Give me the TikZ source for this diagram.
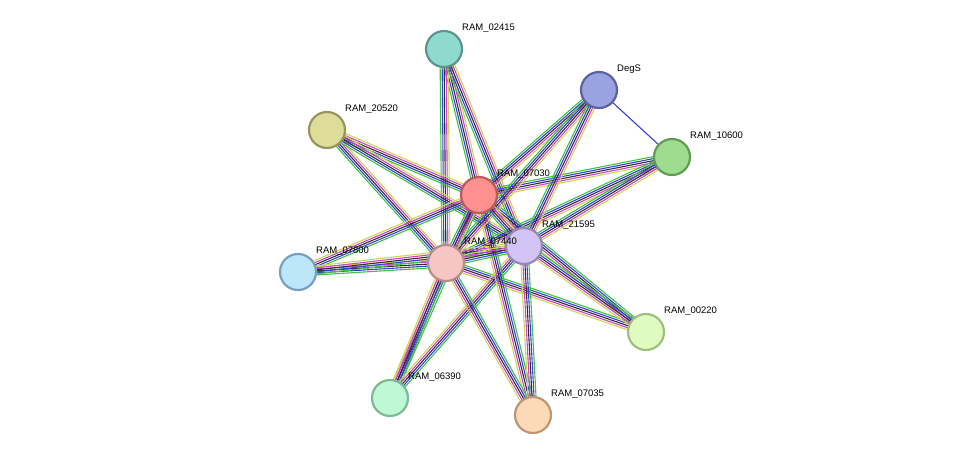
\documentclass[tikz,border=0pt]{standalone}
\usepackage{fontspec}
\setmainfont{Liberation Sans}
\usepackage{tikz}
\usetikzlibrary{calc}

\definecolor{lkgreen}{HTML}{3CC43C}
\definecolor{lkblue}{HTML}{3C3CE6}
\definecolor{lkblack}{HTML}{303030}
\definecolor{lkmag}{HTML}{D040D0}
\definecolor{lkyel}{HTML}{C8D850}

\tikzset{
	prot/.style={circle, draw, line width=2.2pt, minimum size=36pt, inner sep=0pt},
	lbl/.style={anchor=west, font=\fontsize{9.5}{10}\selectfont, inner sep=0pt},
	lk/.style={line width=1.1pt},
}

% bundle of evidence lines between two proteins
\newcommand{\strlink}[2]{%
	\foreach \o/\c in {-4/lkgreen,-2/lkblue,0/lkblack,2/lkmag,4/lkyel}
		\draw[lk,\c] ($(#1)!\o pt!90:(#2)$) -- ($(#2)!\o pt!-90:(#1)$);
}

\begin{document}
\begin{tikzpicture}[x=1pt,y=-1pt]
\useasboundingbox (0,0) rectangle (975,461);

% coordinates of the proteins
\coordinate (c02415) at (444,49);
\coordinate (cDegS) at (599,90);
\coordinate (c20520) at (327,130);
\coordinate (c10600) at (672,157);
\coordinate (c07030) at (479,195);
\coordinate (c21595) at (524,246);
\coordinate (c07440) at (446,263);
\coordinate (c07800) at (298,272);
\coordinate (c00220) at (646,332);
\coordinate (c06390) at (390,398);
\coordinate (c07035) at (533,415);

% links
\foreach \a in {02415,20520,10600,07800,00220,06390,07035,DegS}{
	\strlink{c\a}{c07030}
	\strlink{c\a}{c07440}
	\strlink{c\a}{c21595}
}
\strlink{c07030}{c07440}
\strlink{c07030}{c21595}
\strlink{c07440}{c21595}
\draw[lk,lkblue] (cDegS) -- (c10600);

% proteins
\node[prot, fill={rgb,255:red,143;green,217;blue,207}, draw={rgb,255:red,90;green,150;blue,142}] (n02415) at (c02415) {};
\node[prot, fill={rgb,255:red,154;green,163;blue,224}, draw={rgb,255:red,90;green,98;blue,160}] (nDegS) at (cDegS) {};
\node[prot, fill={rgb,255:red,221;green,220;blue,152}, draw={rgb,255:red,150;green,150;blue,90}] (n20520) at (c20520) {};
\node[prot, fill={rgb,255:red,158;green,220;blue,144}, draw={rgb,255:red,95;green,155;blue,85}] (n10600) at (c10600) {};
\node[prot, fill={rgb,255:red,255;green,144;blue,144}, draw={rgb,255:red,190;green,90;blue,90}] (n07030) at (c07030) {};
\node[prot, fill={rgb,255:red,211;green,196;blue,245}, draw={rgb,255:red,150;green,135;blue,185}] (n21595) at (c21595) {};
\node[prot, fill={rgb,255:red,246;green,198;blue,196}, draw={rgb,255:red,185;green,140;blue,138}] (n07440) at (c07440) {};
\node[prot, fill={rgb,255:red,189;green,230;blue,251}, draw={rgb,255:red,120;green,160;blue,190}] (n07800) at (c07800) {};
\node[prot, fill={rgb,255:red,224;green,251;blue,192}, draw={rgb,255:red,160;green,190;blue,130}] (n00220) at (c00220) {};
\node[prot, fill={rgb,255:red,191;green,248;blue,212}, draw={rgb,255:red,125;green,185;blue,150}] (n06390) at (c06390) {};
\node[prot, fill={rgb,255:red,252;green,217;blue,184}, draw={rgb,255:red,190;green,150;blue,115}] (n07035) at (c07035) {};

% labels
\foreach \a/\t in {02415/RAM\_02415,DegS/DegS,20520/RAM\_20520,10600/RAM\_10600,07030/RAM\_07030,21595/RAM\_21595,07440/RAM\_07440,07800/RAM\_07800,00220/RAM\_00220,06390/RAM\_06390,07035/RAM\_07035}
	\node[lbl] (l\a) at ($(c\a)+(18,-21)$) {\t};
\end{tikzpicture}
\end{document}
